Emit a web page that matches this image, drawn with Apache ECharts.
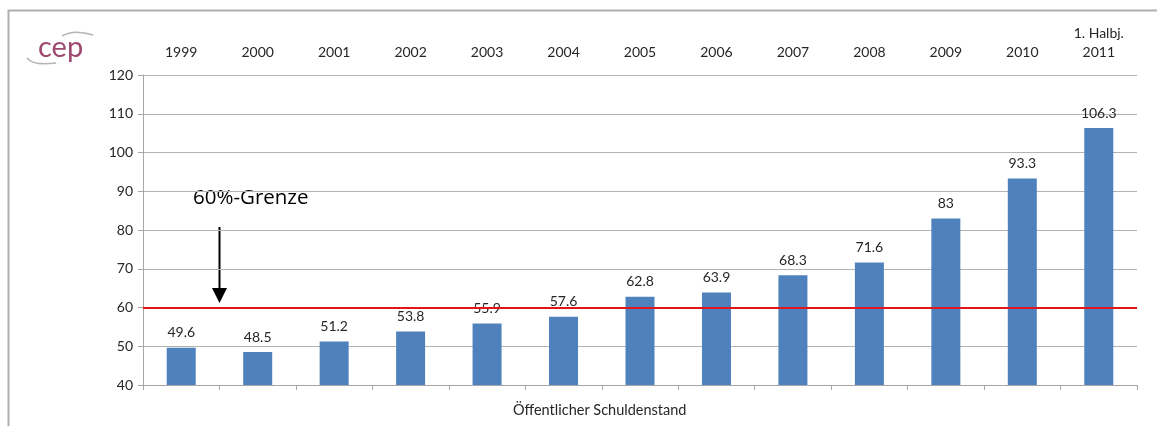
<!DOCTYPE html>
<html>
<head>
<meta charset="utf-8">
<script src="https://cdn.jsdelivr.net/npm/echarts@6/dist/echarts.min.js"></script>
<style>
  html, body { margin: 0; padding: 0; background: #fff; }
  #chart { width: 1157px; height: 426px; }
</style>
</head>
<body>
<div id="chart"></div>
<script>
// Public debt ratio per year (% of GDP)
const categories = ['1999', '2000', '2001', '2002', '2003', '2004', '2005', '2006', '2007', '2008', '2009', '2010', '1. Halbj.\n2011'];
const debtValues = [49.6, 48.5, 51.2, 53.8, 55.9, 57.6, 62.8, 63.9, 68.3, 71.6, 83, 93.3, 106.3];
const limitValue = 60;
const yTicks = { min: 40, max: 120, interval: 10 };

const FONT = 'Lato, "Open Sans", sans-serif';
const chart = echarts.init(document.getElementById('chart'), null, { renderer: 'canvas' });

chart.setOption({
  animation: false,
  backgroundColor: '#fff',
  grid: { left: 143, right: 20, top: 75, bottom: 41 },
  xAxis: [
    {
      type: 'category',
      data: categories,
      position: 'bottom',
      axisLine: { lineStyle: { color: '#a6a6a6', width: 1 } },
      axisTick: { show: true, length: 5, lineStyle: { color: '#a6a6a6' } },
      axisLabel: { show: false }
    },
    {
      type: 'category',
      data: categories,
      position: 'top',
      axisLine: { show: false },
      axisTick: { show: false },
      axisLabel: { color: '#262626', fontSize: 14, fontFamily: FONT, margin: 13, lineHeight: 19 }
    }
  ],
  yAxis: {
    type: 'value',
    min: yTicks.min,
    max: yTicks.max,
    interval: yTicks.interval,
    axisLine: { show: true, lineStyle: { color: '#a6a6a6' } },
    axisTick: { show: true, length: 5, lineStyle: { color: '#a6a6a6' } },
    axisLabel: { color: '#262626', fontSize: 14, fontFamily: FONT, margin: 10 },
    splitLine: { lineStyle: { color: '#b3b3b3', width: 1 } }
  },
  series: [
    {
      type: 'bar',
      data: debtValues,
      xAxisIndex: 0,
      barWidth: 29,
      itemStyle: { color: '#4f81bd' },
      label: {
        show: true,
        position: 'top',
        distance: 8,
        color: '#262626',
        fontSize: 14,
        fontFamily: FONT
      },
      markLine: {
        silent: true,
        symbol: 'none',
        label: { show: false },
        lineStyle: { color: '#e0161a', width: 2, type: 'solid' },
        data: [{ yAxis: limitValue }]
      }
    }
  ],
  graphic: [
    // outer frame
    { type: 'rect', shape: { x: 8.5, y: 10.5, width: 1300, height: 600 }, style: { fill: 'none', stroke: '#b0b0b0', lineWidth: 2 }, z: -1 },
    // logo
    { type: 'text', left: 38, top: 33, style: { text: 'cep', fill: '#9e4a70', font: '29px ' + FONT } },
    { type: 'bezierCurve', shape: { x1: 62, y1: 36, x2: 93, y2: 35, cpx1: 74, cpy1: 29 }, style: { stroke: '#b5b5b5', lineWidth: 1.5, fill: 'none' } },
    { type: 'bezierCurve', shape: { x1: 27, y1: 58, x2: 56, y2: 63, cpx1: 33, cpy1: 66 }, style: { stroke: '#b5b5b5', lineWidth: 1.5, fill: 'none' } },
    // limit annotation
    { type: 'text', left: 193, top: 188, style: { text: '60%-Grenze', fill: '#000', font: '20.5px "Open Sans", sans-serif' } },
    { type: 'line', shape: { x1: 219.5, y1: 227, x2: 219.5, y2: 292 }, style: { stroke: '#000', lineWidth: 2 } },
    { type: 'polygon', shape: { points: [[212, 288], [227, 288], [219.5, 303]] }, style: { fill: '#000' } },
    // axis title
    { type: 'text', left: 513, top: 403, style: { text: 'Öffentlicher Schuldenstand', fill: '#262626', font: '14.5px ' + FONT } }
  ]
});
</script>
</body>
</html>
